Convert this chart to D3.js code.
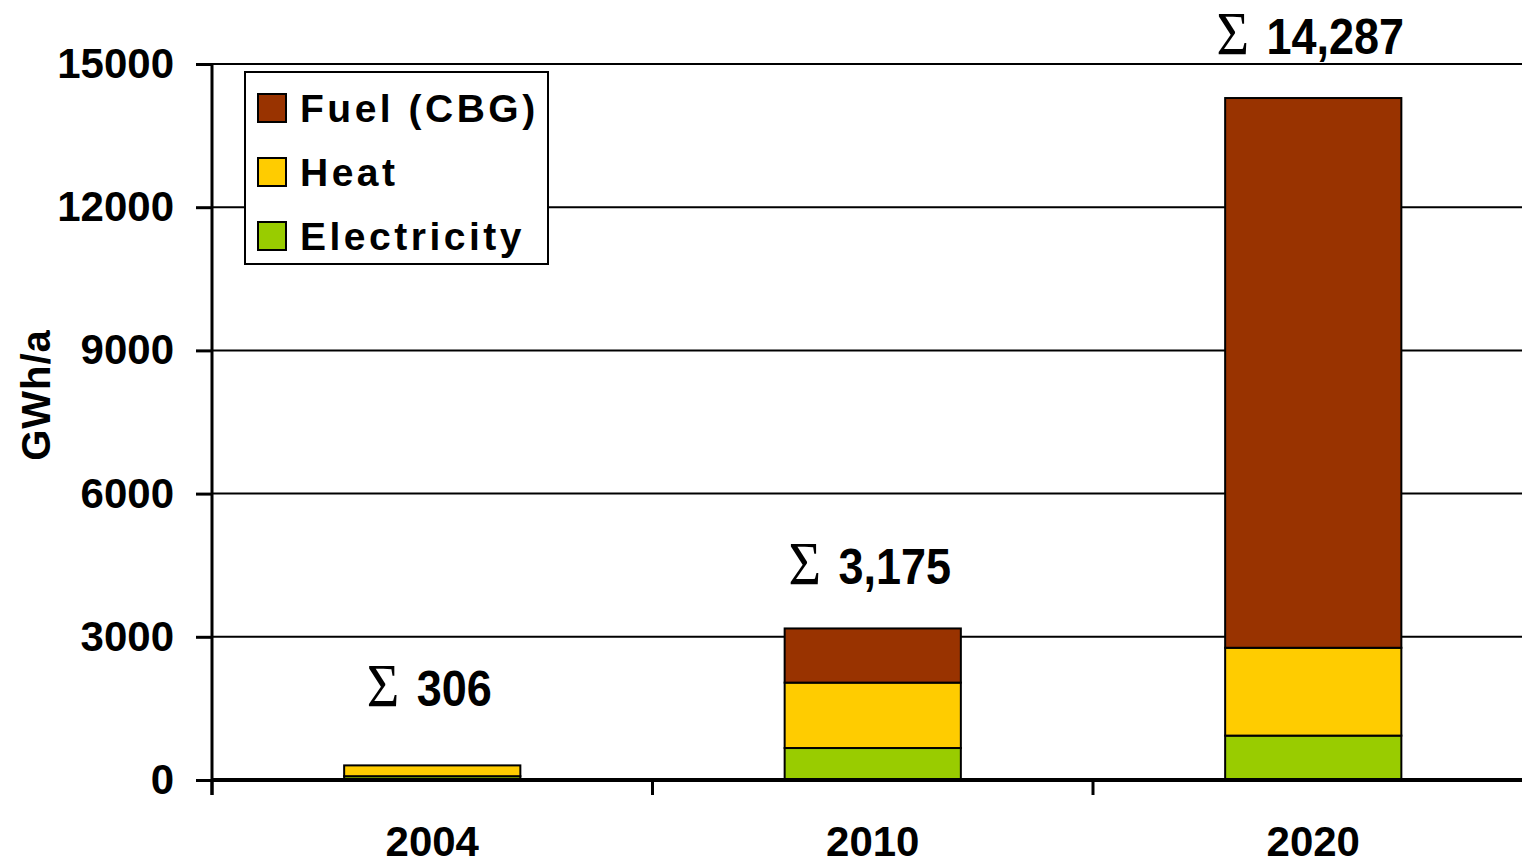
<!DOCTYPE html>
<html><head><meta charset="utf-8">
<script src="https://cdn.jsdelivr.net/npm/d3@7"></script>
<style>
html,body{margin:0;padding:0;background:#fff;}
svg{display:block;}
text{font-family:"Liberation Sans",Arial,sans-serif;font-weight:bold;fill:#000;}
</style></head>
<body>
<svg id="chart" width="1522" height="865"></svg>
<script>
const years = ["2004", "2010", "2020"];
const series = ["Electricity", "Heat", "Fuel (CBG)"];
const electricity = [80, 670, 930];
const heat = [226, 1370, 1840];
const fuel = [0, 1135, 11517];
const totals = ["306", "3,175", "14,287"];
const yTicks = [0, 3000, 6000, 9000, 12000, 15000];
const colors = {"Fuel (CBG)": "#993300", "Heat": "#FFCC00", "Electricity": "#99CC00"};
const legendOrder = ["Fuel (CBG)", "Heat", "Electricity"];

(function () {
const svg = d3.select("#chart");
const mLeft = 212, mRight = 1522, mTop = 64, mBottom = 780;

const x = d3.scaleBand().domain(years).range([mLeft, mLeft + 3 * 440.5]).paddingInner(0.6).paddingOuter(0.3);
const y = d3.scaleLinear().domain([0, 15000]).range([mBottom, mTop]);

const rows = years.map((yr, i) => ({year: yr, "Electricity": electricity[i], "Heat": heat[i], "Fuel (CBG)": fuel[i]}));
const stacked = d3.stack().keys(series)(rows);

// gridlines
svg.append("g").selectAll("line").data(yTicks.filter(t => t > 0)).join("line")
  .attr("x1", mLeft).attr("x2", mRight)
  .attr("y1", d => y(d)).attr("y2", d => y(d))
  .attr("stroke", "#000").attr("stroke-width", 2);

// bars
svg.append("g").selectAll("g").data(stacked).join("g")
  .attr("fill", d => colors[d.key])
  .selectAll("rect").data(d => d.filter(s => s[1] - s[0] > 0)).join("rect")
  .attr("x", d => x(d.data.year))
  .attr("width", x.bandwidth())
  .attr("y", d => y(d[1]))
  .attr("height", d => y(d[0]) - y(d[1]))
  .attr("stroke", "#000").attr("stroke-width", 2);

// y axis
const yAxis = d3.axisLeft(y).tickValues(yTicks).tickSize(16).tickPadding(22).tickFormat(d3.format("d"));
const gy = svg.append("g").attr("transform", `translate(${mLeft},0)`).call(yAxis);
gy.select(".domain").remove();
gy.selectAll(".tick line").attr("stroke", "#000").attr("stroke-width", 3);
gy.selectAll(".tick text").attr("font-size", 42).attr("font-family", "Liberation Sans, Arial, sans-serif").attr("font-weight", "bold").attr("fill", "#000");
svg.append("line").attr("x1", mLeft).attr("x2", mLeft).attr("y1", mTop - 1).attr("y2", mBottom + 15)
  .attr("stroke", "#000").attr("stroke-width", 3);

// x axis
svg.append("line").attr("x1", mLeft).attr("x2", mRight).attr("y1", mBottom).attr("y2", mBottom)
  .attr("stroke", "#000").attr("stroke-width", 4);
const boundaries = years.map((d, i) => mLeft + i * x.step());
svg.append("g").selectAll("line").data(boundaries).join("line")
  .attr("x1", d => d).attr("x2", d => d).attr("y1", mBottom).attr("y2", mBottom + 15)
  .attr("stroke", "#000").attr("stroke-width", 3);
svg.append("g").selectAll("text").data(years).join("text")
  .attr("x", d => x(d) + x.bandwidth() / 2)
  .attr("y", 856)
  .attr("text-anchor", "middle").attr("font-size", 42)
  .text(d => d);

// total labels
const lab = svg.append("g").selectAll("text").data(rows).join("text")
  .attr("transform", d => {
    const cx = x(d.year) + x.bandwidth() / 2 - 3;
    const by = Math.min(y(d["Electricity"] + d["Heat"] + d["Fuel (CBG)"]) - 44, mBottom - 74);
    return `translate(${cx},${by}) scale(1,1.1)`;
  })
  .attr("text-anchor", "middle");
lab.append("tspan").attr("font-family", "Liberation Serif, DejaVu Serif, serif").attr("font-weight", "normal").attr("font-size", 56).text("Σ");
lab.append("tspan").attr("font-size", 45).attr("dx", 5).text((d, i) => " " + totals[i]);

// y title
svg.append("text").attr("transform", "translate(50,395) rotate(-90)")
  .attr("text-anchor", "middle").attr("font-size", 40).attr("letter-spacing", 1).text("GWh/a");

// legend
const lg = svg.append("g");
lg.append("rect").attr("x", 245).attr("y", 72).attr("width", 303).attr("height", 192)
  .attr("fill", "#fff").attr("stroke", "#000").attr("stroke-width", 2);
const li = lg.selectAll("g.item").data(legendOrder).join("g").attr("class", "item")
  .attr("transform", (d, i) => `translate(258,${108 + i * 64})`);
li.append("rect").attr("x", 0).attr("y", -14).attr("width", 28).attr("height", 28)
  .attr("fill", d => colors[d]).attr("stroke", "#000").attr("stroke-width", 2);
li.append("text").attr("x", 42).attr("y", 14).attr("font-size", 39).attr("letter-spacing", 3.5).text(d => d);
})();
</script>
</body></html>
